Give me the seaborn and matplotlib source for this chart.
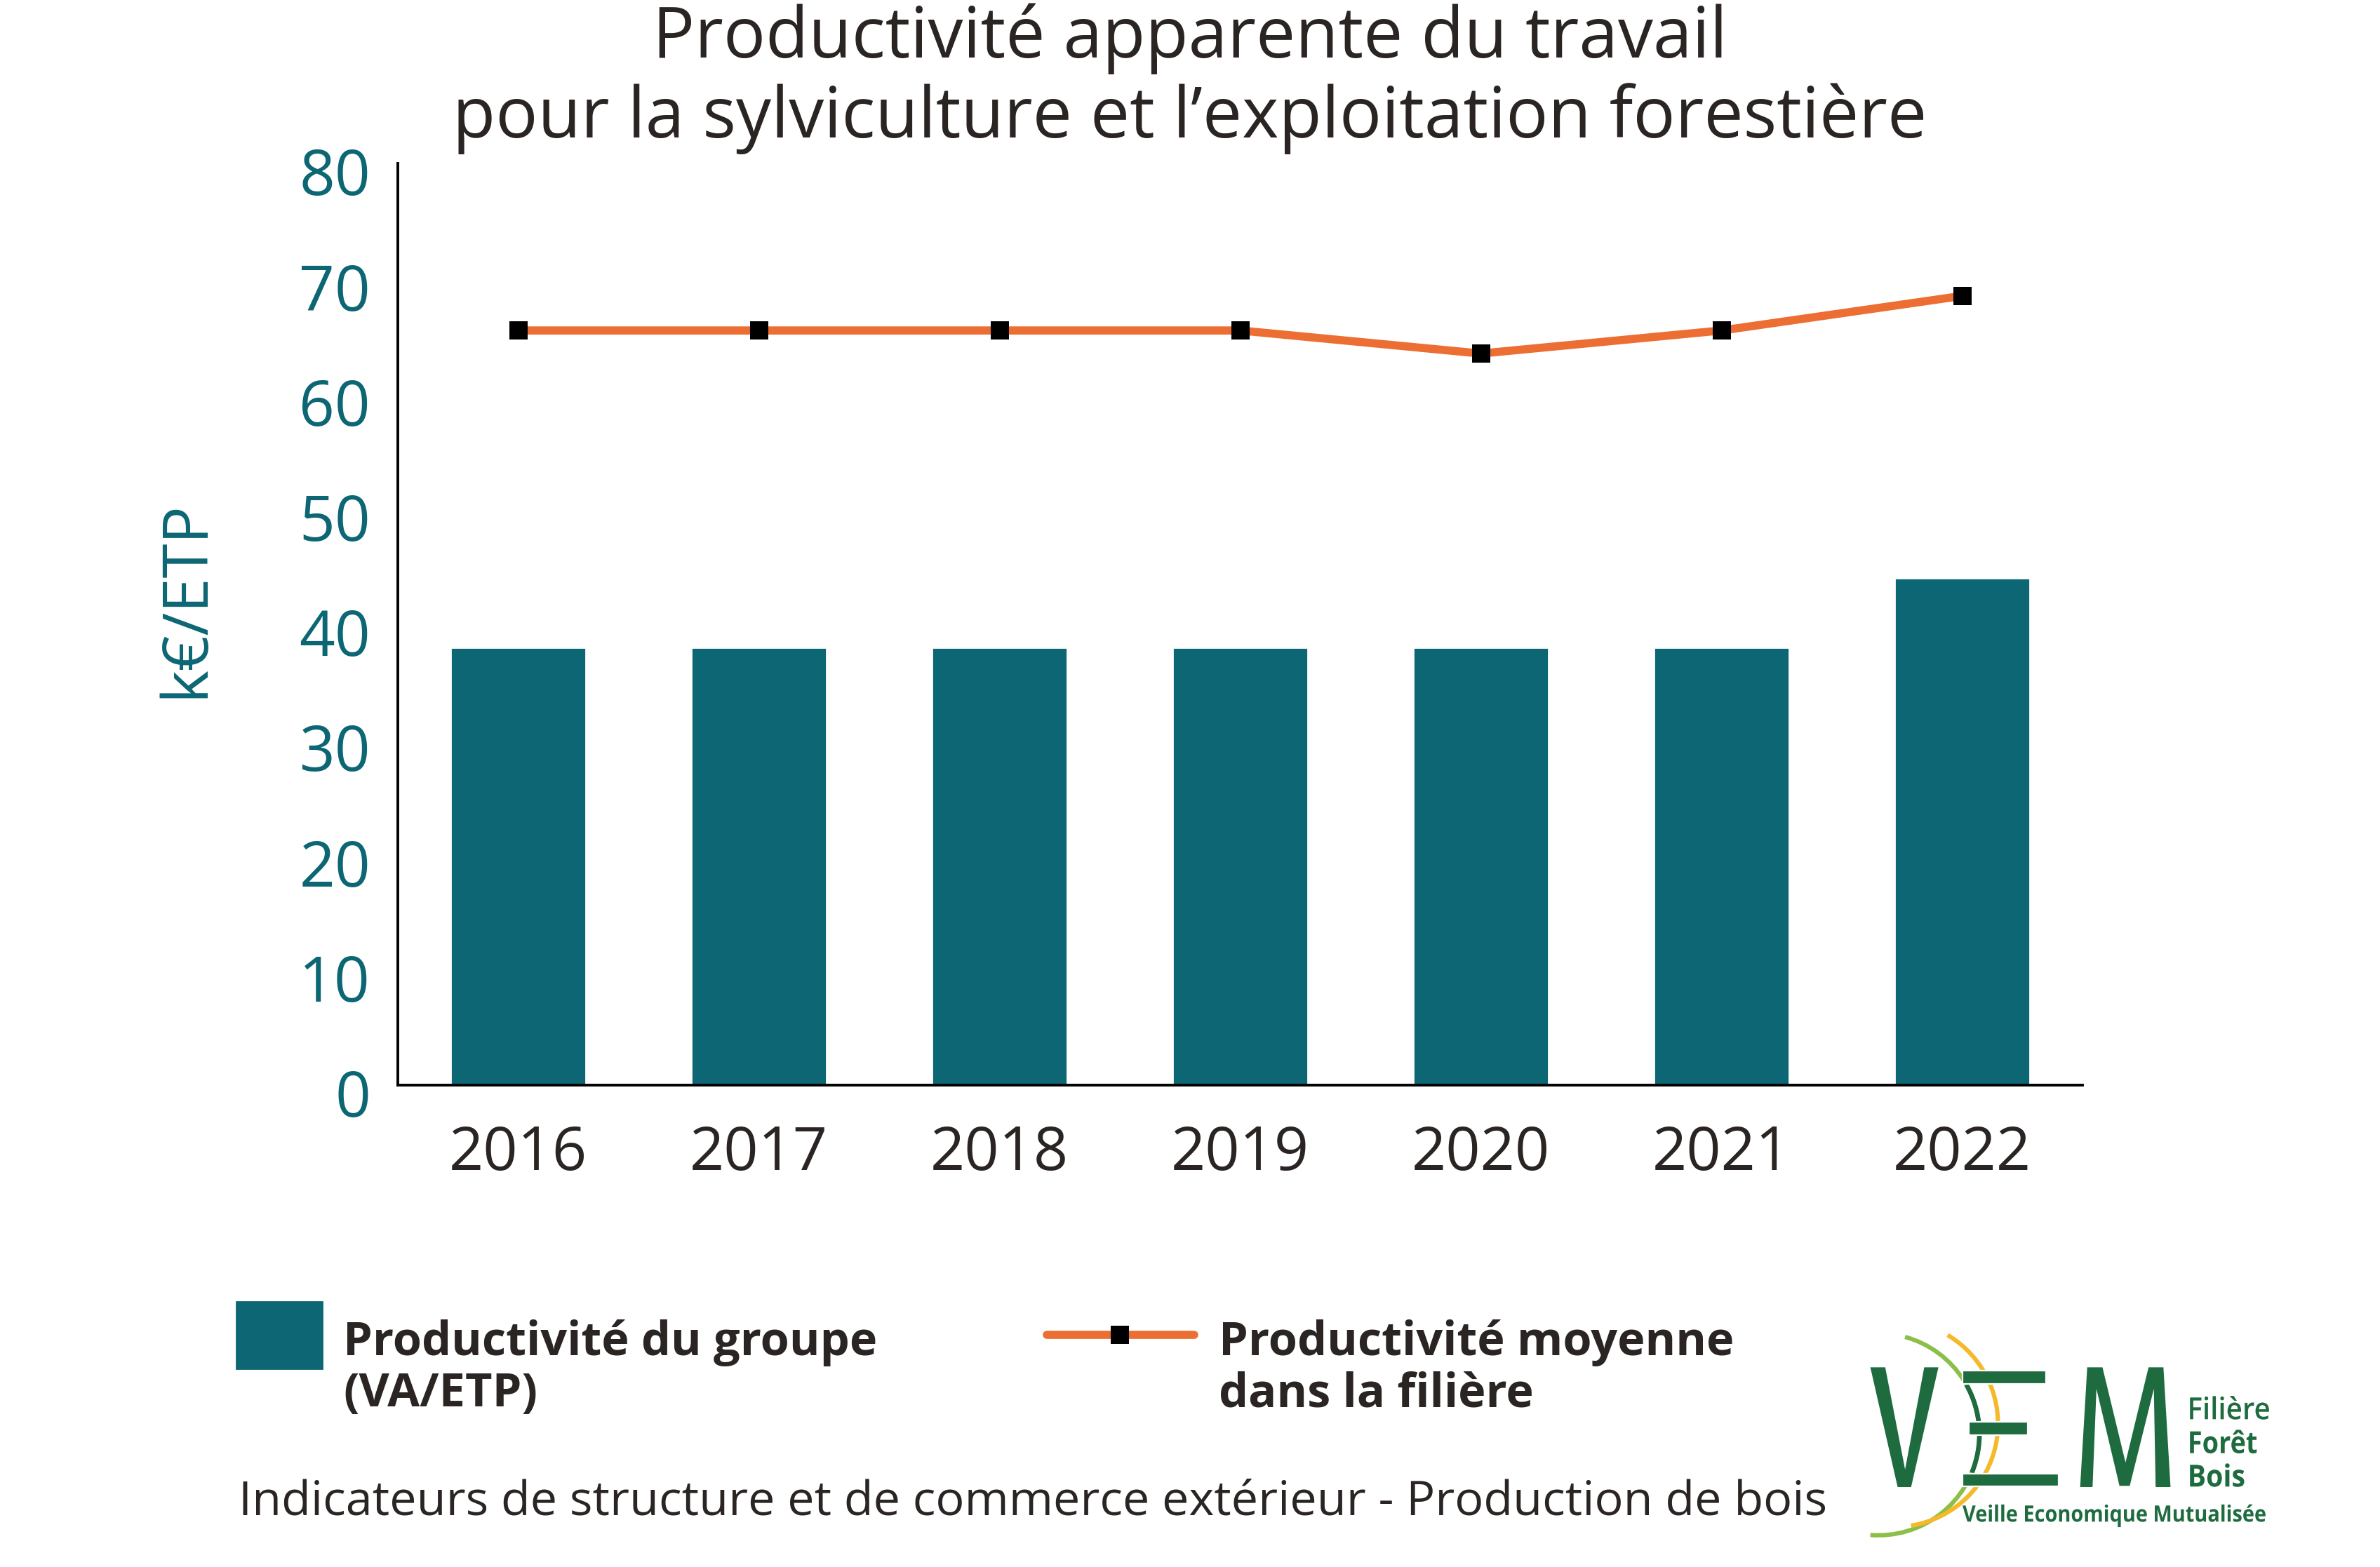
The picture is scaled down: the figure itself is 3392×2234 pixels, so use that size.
import numpy as np
import matplotlib
matplotlib.use("Agg")
import matplotlib.pyplot as plt
import seaborn as sns
from matplotlib.patches import Rectangle, Polygon, Arc, PathPatch
from matplotlib.lines import Line2D
from matplotlib.transforms import ScaledTranslation, Affine2D
from matplotlib.textpath import TextPath
from matplotlib.font_manager import FontProperties

# data
annees = ["2016", "2017", "2018", "2019", "2020", "2021", "2022"]
productivite_groupe = [38, 38, 38, 38, 38, 38, 44]
productivite_moyenne = [65.5, 65.5, 65.5, 65.5, 63.5, 65.5, 68.5]
y_ticks = [0, 10, 20, 30, 40, 50, 60, 70, 80]

TEAL = "#0C6673"
ORANGE = "#EC6E33"
DARK = "#2A2523"
VEM_GREEN = "#1E6B3F"
VEM_LIGHT = "#8BBF48"
VEM_YELLOW = "#F5B92A"

W, H, DPI = 3392, 2234, 200
FONT = "Open Sans"

sns.set_theme(style="white")
plt.rcParams["font.family"] = [FONT, "DejaVu Sans"]

fig = plt.figure(figsize=(W / DPI, H / DPI), dpi=DPI, facecolor="white")
ax = fig.add_axes([567 / W, 1 - 1547 / H, (2968 - 567) / W, (1547 - 233) / H])

sns.barplot(x=annees, y=productivite_groupe, color=TEAL, width=0.56,
            saturation=1, ax=ax)
sns.pointplot(x=annees, y=productivite_moyenne, color=ORANGE, errorbar=None,
              marker="s", markersize=9.7, markeredgewidth=0,
              markerfacecolor="black", linewidth=4.2, ax=ax)

ax.set_xlim(-0.5, 6.5)
ax.set_ylim(0, 80)
ax.set_yticks(y_ticks)
ax.set_xticks(np.arange(-0.5, 7), minor=True)
ax.set_xlabel("")
ax.set_ylabel("")
ax.tick_params(axis="x", which="major", length=0, pad=20, labelsize=31,
               labelcolor=DARK)
ax.tick_params(axis="x", which="minor", direction="in", length=11.5,
               width=1.4, color="black")
ax.tick_params(axis="y", length=0, pad=14, labelsize=32, labelcolor=TEAL)
sns.despine(ax=ax)
for s in ["left", "bottom"]:
    ax.spines[s].set_color("black")
    ax.spines[s].set_linewidth(1.4)
for lbl in ax.get_yticklabels():
    lbl.set_transform(lbl.get_transform()
                      + ScaledTranslation(0, -11 / DPI, fig.dpi_scale_trans))

fig.text(266 / W, 1 - 854 / H, "k€/ETP", rotation=90, color=TEAL,
         fontsize=32, ha="center", va="center")

# title
fig.text(0.5, 1 - 82 / H, "Productivité apparente du travail",
         ha="center", va="baseline", fontsize=36, color=DARK)
fig.text(0.5, 1 - 196 / H, "pour la sylviculture et l’exploitation forestière",
         ha="center", va="baseline", fontsize=36, color=DARK)

# legend
fig.add_artist(Rectangle((337 / W, 1 - 1951 / H), 122 / W, 95 / H,
                         transform=fig.transFigure, color=TEAL))
fig.add_artist(Line2D([1492 / W, 1702 / W], [1 - 1903 / H] * 2,
                      transform=fig.transFigure, color=ORANGE, lw=4.2))
fig.add_artist(Line2D([1596 / W], [1 - 1903 / H], transform=fig.transFigure,
                      marker="s", ms=9.7, mew=0, mfc="black", ls="none"))
for x, lines in [(489, ["Productivité du groupe", "(VA/ETP)"]),
                 (1737, ["Productivité moyenne", "dans la filière"])]:
    for i, t in enumerate(lines):
        fig.text(x / W, 1 - (1932 + 73 * i) / H, t, fontsize=24,
                 fontweight="bold", color=DARK, va="baseline")

fig.text(340 / W, 1 - 2159 / H,
         "Indicateurs de structure et de commerce extérieur - Production de bois",
         fontsize=24.6, color=DARK, va="baseline")

# logo VEM
lax = fig.add_axes([2600 / W, 0, 792 / W, 384 / H])
lax.set_xlim(2600, 3392)
lax.set_ylim(2234, 1850)
lax.axis("off")


def z(X, Y):
    return (2600 + X / 1.98, 1850 + Y / 3)


def circle3(a, b, c):
    ax_, ay = a
    bx, by = b
    cx, cy = c
    d = 2 * (ax_ * (by - cy) + bx * (cy - ay) + cx * (ay - by))
    ux = ((ax_**2 + ay**2) * (by - cy) + (bx**2 + by**2) * (cy - ay)
          + (cx**2 + cy**2) * (ay - by)) / d
    uy = ((ax_**2 + ay**2) * (cx - bx) + (bx**2 + by**2) * (ax_ - cx)
          + (cx**2 + cy**2) * (bx - ax_)) / d
    r = np.hypot(ax_ - ux, ay - uy)
    return ux, uy, r


def draw_arc(a, b, c, color, lw, zorder=1):
    ux, uy, r = circle3(a, b, c)
    t1 = np.degrees(np.arctan2(a[1] - uy, a[0] - ux))
    t2 = np.degrees(np.arctan2(c[1] - uy, c[0] - ux))
    lax.add_patch(Arc((ux, uy), 2 * r, 2 * r, theta1=t1, theta2=t2,
                      color=color, lw=lw, zorder=zorder))
    return ux, uy, r


g = draw_arc(z(228, 168), z(435, 525), z(130, 1015), VEM_LIGHT, 2.2)
draw_arc(z(348, 160), z(490, 525), z(245, 975), VEM_YELLOW, 2.2)
ux, uy, r = g
ya, yb = z(0, 372)[1], z(0, 748)[1]
ta = np.degrees(np.arcsin((ya - uy) / r))
tb = np.degrees(np.arcsin((yb - uy) / r))
lax.add_patch(Arc((ux, uy), 2 * r, 2 * r, theta1=ta, theta2=tb,
                  color=VEM_GREEN, lw=2.4, zorder=2))

v_pts = [z(*p) for p in [(130, 298), (172, 298), (228, 735), (282, 298),
                         (322, 298), (245, 810), (207, 810)]]
m_pts = [z(*p) for p in [(742, 298), (785, 298), (850, 705), (915, 298),
                         (957, 298), (977, 810), (935, 810), (930, 390),
                         (862, 805), (833, 805), (768, 390), (757, 810),
                         (722, 810)]]
lax.add_patch(Polygon(v_pts, closed=True, color=VEM_GREEN, lw=0, zorder=3))
lax.add_patch(Polygon(m_pts, closed=True, color=VEM_GREEN, lw=0, zorder=3))
for x0, y0, x1, y1 in [(390, 313, 625, 368), (407, 532, 575, 587),
                       (390, 752, 662, 807)]:
    p0, p1 = z(x0, y0), z(x1, y1)
    lax.add_patch(Rectangle(p0, p1[0] - p0[0], p1[1] - p0[1],
                            facecolor=VEM_GREEN, edgecolor="white", lw=0.8,
                            zorder=3))


def logo_text(s, X0, X1, Ybase, cap_px, weight="bold"):
    tp = TextPath((0, 0), s, size=100,
                  prop=FontProperties(family=FONT, weight=weight))
    bb = tp.get_extents()
    x0, yb = z(X0, Ybase)
    x1, _ = z(X1, Ybase)
    sx = (x1 - x0) / bb.width
    sy = cap_px / 71.4
    tr = Affine2D().translate(-bb.x0, 0).scale(sx, -sy).translate(x0, yb)
    lax.add_patch(PathPatch(tr.transform_path(tp), color=VEM_GREEN, lw=0,
                            zorder=4))


logo_text("Filière", 1032, 1255, 520, 31, weight="semibold")
logo_text("Forêt", 1032, 1220, 665, 31)
logo_text("Bois", 1032, 1185, 808, 31)
logo_text("Veille Economique Mutualisée", 390, 1245, 958, 23)

fig.savefig("out.png", dpi=DPI, facecolor="white")
